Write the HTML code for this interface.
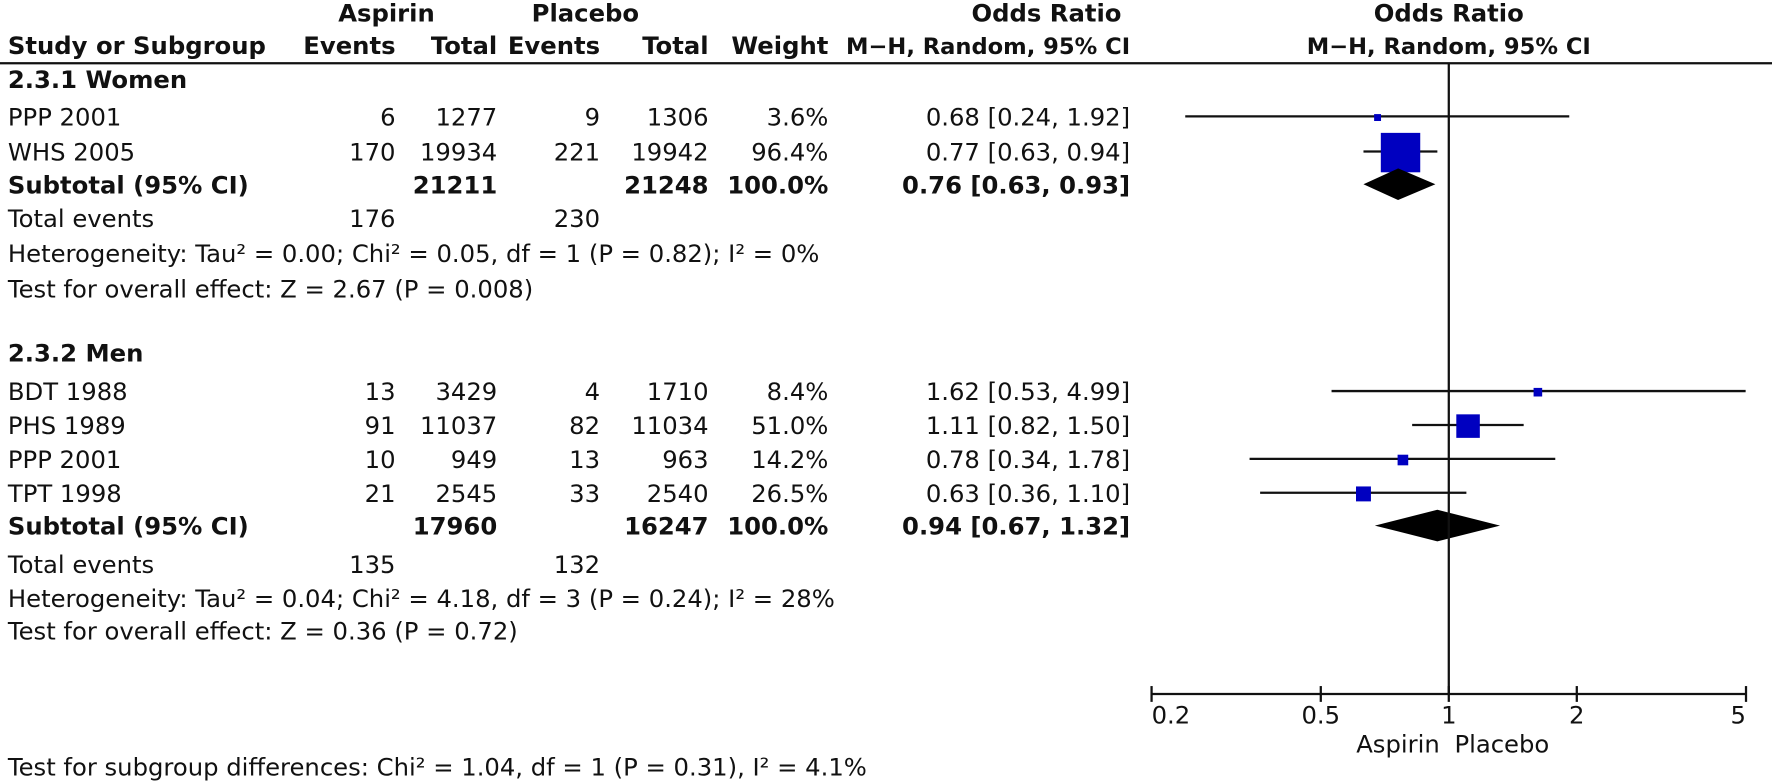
<!DOCTYPE html>
<html><head><meta charset="utf-8"><style>
html,body{margin:0;padding:0;background:#fff}
svg{display:block;font-family:"DejaVu Sans","Liberation Sans",sans-serif}
text{font-size:21.5px;fill:#111}
.b{font-weight:bold}
.mh{font-size:20px}
</style></head><body>
<svg id="fp" width="1772" height="781" viewBox="0 0 1568 691" preserveAspectRatio="none">
<g id="hdr">
<text class="b" x="342" y="19" text-anchor="middle">Aspirin</text>
<text class="b" x="518" y="19" text-anchor="middle">Placebo</text>
<text class="b" x="926" y="19" text-anchor="middle">Odds Ratio</text>
<text class="b" x="1282" y="19" text-anchor="middle">Odds Ratio</text>
<text class="b" x="7" y="48">Study or Subgroup</text>
<text class="b" x="350" y="48" text-anchor="end">Events</text>
<text class="b" x="440" y="48" text-anchor="end">Total</text>
<text class="b" x="531" y="48" text-anchor="end">Events</text>
<text class="b" x="627" y="48" text-anchor="end">Total</text>
<text class="b" x="733" y="48" text-anchor="end">Weight</text>
<text class="b mh" x="1000" y="48" text-anchor="end">M−H, Random, 95% CI</text>
<text class="b mh" x="1282" y="48" text-anchor="middle">M−H, Random, 95% CI</text>
<line x1="0" y1="56" x2="1568" y2="56" stroke="#111" stroke-width="2"/>
</g>
<g id="tbl"></g>
<g id="plot"></g>
<text x="7" y="686">Test for subgroup differences: Chi² = 1.04, df = 1 (P = 0.31), I² = 4.1%</text>
</svg>
<script>
const studyNames=["PPP 2001","WHS 2005","BDT 1988","PHS 1989","PPP 2001","TPT 1998"];
const studyRowsY=[103,134,346,376,406,436];
const aspEvents=[6,170,13,91,10,21];
const aspTotal=[1277,19934,3429,11037,949,2545];
const plaEvents=[9,221,4,82,13,33];
const plaTotal=[1306,19942,1710,11034,963,2540];
const weights=[3.6,96.4,8.4,51.0,14.2,26.5];
const orVal=[0.68,0.77,1.62,1.11,0.78,0.63];
const ciLow=[0.24,0.63,0.53,0.82,0.34,0.36];
const ciHigh=[1.92,0.94,4.99,1.50,1.78,1.10];
const subOr=[0.76,0.94];
const subLow=[0.63,0.67];
const subHigh=[0.93,1.32];
const subAspTotal=[21211,17960];
const subPlaTotal=[21248,16247];
const tickVals=[0.2,0.5,1,2,5];
const tickLabels=["0.2","0.5","1","2","5"];

const NS="http://www.w3.org/2000/svg";
const xMin=0.2,xMax=5,pxL=1019,pxR=1545,axisY=614;
function xs(v){return pxL+(Math.log(v)-Math.log(xMin))/(Math.log(xMax)-Math.log(xMin))*(pxR-pxL);}
function mk(parent,tag,attrs,txt){const e=document.createElementNS(NS,tag);for(const k in attrs)e.setAttribute(k,attrs[k]);if(txt!==undefined)e.textContent=txt;parent.appendChild(e);return e;}
const tbl=document.getElementById('tbl'),plot=document.getElementById('plot');
function t(x,y,s,anchor,bold){const e=mk(tbl,'text',{x:x,y:y,'text-anchor':anchor||'start'},s);if(bold)e.setAttribute('class','b');return e;}

const secLines=[
 [7,78,"2.3.1 Women",true],[7,320,"2.3.2 Men",true],
 [7,201,"Total events"],[7,507,"Total events"],
 [7,232,"Heterogeneity: Tau² = 0.00; Chi² = 0.05, df = 1 (P = 0.82); I² = 0%"],
 [7,263,"Test for overall effect: Z = 2.67 (P = 0.008)"],
 [7,537,"Heterogeneity: Tau² = 0.04; Chi² = 4.18, df = 3 (P = 0.24); I² = 28%"],
 [7,566,"Test for overall effect: Z = 0.36 (P = 0.72)"]];
secLines.forEach(l=>{const e=t(l[0],l[1],l[2],'start',l[3]);

});
const te=[["176","230",201],["135","132",507]];
te.forEach(r=>{let e=t(350,r[2],r[0],'end');


e=t(531,r[2],r[1],'end');

});

studyNames.forEach((n,i)=>{
 const y=studyRowsY[i]+8;
 const cells=[[7,n,'start'],[350,aspEvents[i],'end'],[440,aspTotal[i],'end'],[531,plaEvents[i],'end'],[627,plaTotal[i],'end'],[733,weights[i].toFixed(1)+'%','end'],[1000,orVal[i].toFixed(2)+' ['+ciLow[i].toFixed(2)+', '+ciHigh[i].toFixed(2)+']','end']];
 cells.forEach(c=>{const e=t(c[0],y,String(c[1]),c[2]);
 
 });
 const cy=studyRowsY[i];
 const lx1=Math.max(xs(ciLow[i]),pxL),lx2=Math.min(xs(ciHigh[i]),pxR);
 const ln=mk(plot,'line',{x1:lx1,y1:cy,x2:lx2,y2:cy,stroke:'#111','stroke-width':2});
 
 
 const s=5+31*weights[i]/100;
 const sq=mk(plot,'rect',{x:xs(orVal[i])-s/2,y:cy-s/2+1,width:s,height:s,fill:'#0000c0'});
 
 
});
const subY=[163,465];
subY.forEach((y,i)=>{
 const cells=[[7,"Subtotal (95% CI)",'start'],[440,subAspTotal[i],'end'],[627,subPlaTotal[i],'end'],[733,"100.0%",'end'],[1000,subOr[i].toFixed(2)+' ['+subLow[i].toFixed(2)+', '+subHigh[i].toFixed(2)+']','end']];
 cells.forEach(c=>{const e=t(c[0],y+8,String(c[1]),c[2],true);
 
 });
 const h=14;
 const d=mk(plot,'polygon',{points:`${xs(subLow[i])},${y} ${xs(subOr[i])},${y-h} ${xs(subHigh[i])},${y} ${xs(subOr[i])},${y+h}`,fill:'#000'});
 
 
});
const nl=mk(plot,'line',{x1:xs(1),y1:56,x2:xs(1),y2:axisY,stroke:'#111','stroke-width':2});


const ax=mk(plot,'line',{x1:pxL,y1:axisY,x2:pxR,y2:axisY,stroke:'#111','stroke-width':2});


tickVals.forEach((v,i)=>{
 const tk=mk(plot,'line',{x1:xs(v),y1:axisY-7,x2:xs(v),y2:axisY+7,stroke:'#111','stroke-width':2});
 
 
 const anc=i===0?'start':(i===tickVals.length-1?'end':'middle');
 const lb=mk(plot,'text',{x:xs(v),y:640,'text-anchor':anc},tickLabels[i]);
 
 
});
const f1=mk(plot,'text',{x:xs(1)-8,y:666,'text-anchor':'end'},'Aspirin');


const f2=mk(plot,'text',{x:xs(1)+5,y:666,'text-anchor':'start'},'Placebo');


</script>
</body></html>
